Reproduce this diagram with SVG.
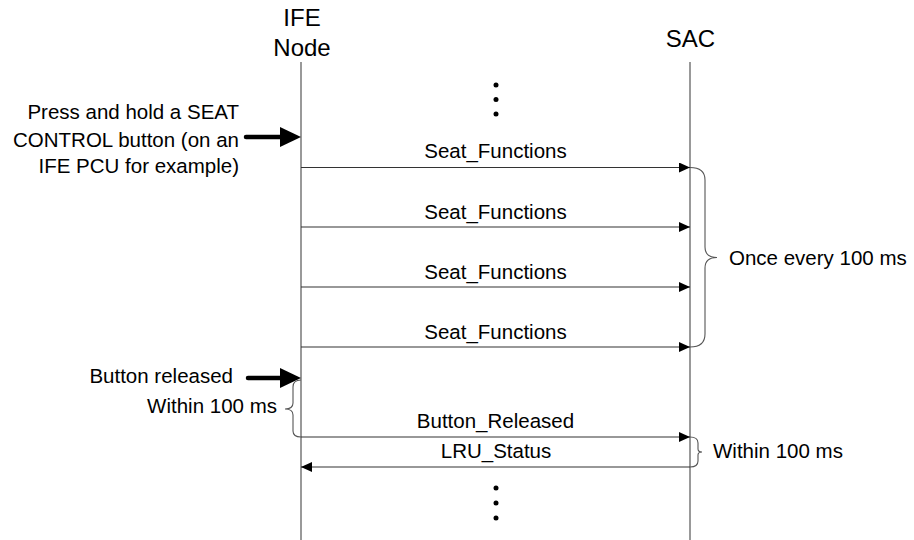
<svg xmlns="http://www.w3.org/2000/svg" width="914" height="540" viewBox="0 0 914 540">
<style>
text{font-family:"Liberation Sans",Arial,sans-serif;fill:#000}
.h{font-size:24px;text-anchor:middle}
.l{font-size:20.5px;text-anchor:middle}
.r{font-size:20.5px;text-anchor:end}
.s{font-size:20.5px;text-anchor:start}
.life{stroke:#555;stroke-width:1.2;fill:none}
.msg{stroke:#333;stroke-width:1.2;fill:none;marker-end:url(#ah)}
.br{stroke:#555;stroke-width:1.1;fill:none}
.thick{stroke:#000;stroke-width:4.5;stroke-linecap:round;fill:none}
</style>
<defs>
<marker id="ah" viewBox="0 0 11 10" refX="11" refY="5" markerWidth="11" markerHeight="10" markerUnits="userSpaceOnUse" orient="auto">
<path d="M0,0 L11,5 L0,10 Z" fill="#000"/>
</marker>
</defs>
<g id="ife">
<text class="h" x="302" y="26">IFE</text>
<text class="h" x="302" y="56">Node</text>
<line class="life" x1="301" y1="62" x2="301" y2="540"/>
</g>
<g id="sac">
<text class="h" x="690.5" y="47">SAC</text>
<line class="life" x1="690" y1="62" x2="690" y2="540"/>
</g>
<g id="dots">
<circle cx="496" cy="85" r="2.5"/>
<circle cx="496" cy="99.5" r="2.5"/>
<circle cx="496" cy="114" r="2.5"/>
<circle cx="496" cy="488" r="2.5"/>
<circle cx="496" cy="503" r="2.5"/>
<circle cx="496" cy="518" r="2.5"/>
</g>
<g id="event-press">
<text class="r" x="239" y="119">Press and hold a SEAT</text>
<text class="r" x="239" y="146.5">CONTROL button (on an</text>
<text class="r" x="239" y="173">IFE PCU for example)</text>
<line class="thick" x1="246" y1="137" x2="283" y2="137"/>
<path d="M280,127 L301,137 L280,147 Z" fill="#000"/>
</g>
<g id="event-release">
<text class="r" x="233" y="383">Button released</text>
<line class="thick" x1="248" y1="378" x2="283" y2="378"/>
<path d="M280,368 L301,378 L280,388 Z" fill="#000"/>
</g>
<g id="connectors">
<line class="msg" x1="301" y1="167.5" x2="690" y2="167.5"/>
<line class="msg" x1="301" y1="227" x2="690" y2="227"/>
<line class="msg" x1="301" y1="287" x2="690" y2="287"/>
<line class="msg" x1="301" y1="347" x2="690" y2="347"/>
<line class="msg" x1="301" y1="437" x2="690" y2="437"/>
<line class="msg" x1="690" y1="467" x2="301" y2="467"/>
<text class="l" x="495.5" y="158">Seat_Functions</text>
<text class="l" x="495.5" y="219">Seat_Functions</text>
<text class="l" x="495.5" y="279">Seat_Functions</text>
<text class="l" x="495.5" y="339">Seat_Functions</text>
<text class="l" x="495.5" y="428">Button_Released</text>
<text class="l" x="496" y="458">LRU_Status</text>
</g>
<g id="brace-periodic">
<path class="br" d="M690,167.5 C700,167.5 705,171 705,180 L705,247 C705,254 709,257.5 717,257.5 C709,257.5 705,261 705,268 L705,334 C705,343 700,347 690,347"/>
<text class="s" x="729" y="264.5">Once every 100 ms</text>
</g>
<g id="brace-release">
<path class="br" d="M301,380 C296,380 293,382 293,387 L293,403 C293,407 290,409 285,409 C290,409 293,411 293,415 L293,431 C293,435 296,437 301,437"/>
<text class="r" x="277" y="413">Within 100 ms</text>
</g>
<g id="brace-response">
<path class="br" d="M690,437 C695,437 698,439 698,443 L698,449 C698,451 700,452 702,452 C700,452 698,453 698,455 L698,461 C698,465 695,467 690,467"/>
<text class="s" x="713" y="458">Within 100 ms</text>
</g>
</svg>
